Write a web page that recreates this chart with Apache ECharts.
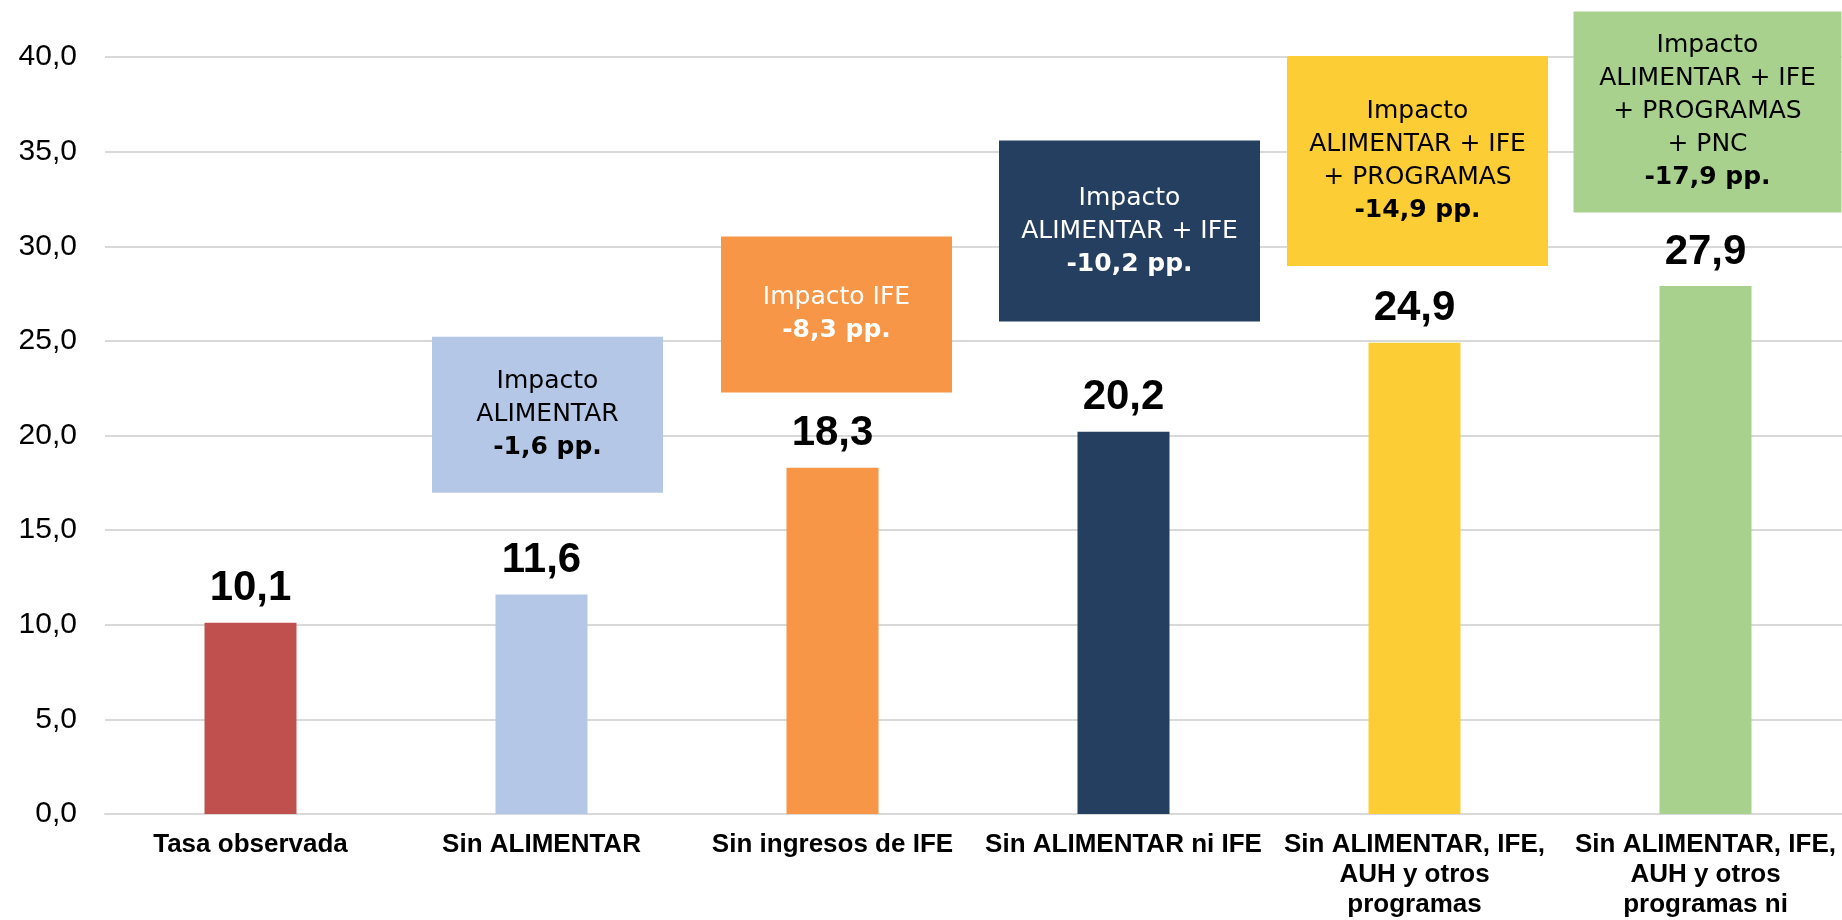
<!DOCTYPE html>
<html>
<head>
<meta charset="utf-8">
<script src="https://cdn.jsdelivr.net/npm/echarts@6/dist/echarts.min.js"></script>
<style>
  html, body { margin: 0; padding: 0; background: #fff; }
  #chart { width: 1842px; height: 920px; }
</style>
</head>
<body>
<div id="chart"></div>
<script>
// datos
let categorias = ['Tasa observada', 'Sin ALIMENTAR', 'Sin ingresos de IFE', 'Sin ALIMENTAR ni IFE',
  'Sin ALIMENTAR, IFE,\nAUH y otros\nprogramas', 'Sin ALIMENTAR, IFE,\nAUH y otros\nprogramas ni\nPNC']
let tasas = [10.1, 11.6, 18.3, 20.2, 24.9, 27.9]
let impactoTitulos = ['Impacto\nALIMENTAR', 'Impacto IFE', 'Impacto\nALIMENTAR + IFE',
  'Impacto\nALIMENTAR + IFE\n+ PROGRAMAS', 'Impacto\nALIMENTAR + IFE\n+ PROGRAMAS\n+ PNC']
let impactoPp = [-1.6, -8.3, -10.2, -14.9, -17.9]

// estilos
let colores = ['#C0504D', '#B4C7E7', '#F79646', '#243F60', '#FDCD36', '#A9D18E']
let textoCaja = ['#000', '#fff', '#fff', '#000', '#000']
// caja: categoria, centro en eje y, ancho, alto, desplazamiento x
let cajas = [
  { cat: 1, y: 21.1, w: 231, h: 156, dx: 6 },
  { cat: 2, y: 26.4, w: 231, h: 156, dx: 4 },
  { cat: 3, y: 30.8, w: 261, h: 181, dx: 6 },
  { cat: 4, y: 34.5, w: 261, h: 210, dx: 3 },
  { cat: 5, y: 37.1, w: 268, h: 201, dx: 2 }
]

let coma = v => v.toFixed(1).replace('.', ',')

let marcas = cajas.map((c, i) => ({
  coord: [c.cat, c.y],
  symbolSize: [c.w, c.h],
  symbolOffset: [c.dx, 0],
  itemStyle: { color: colores[i + 1] },
  label: {
    formatter: impactoTitulos[i].split('\n').map(t => '{n|' + t + '}').join('\n') +
      '\n{b|' + coma(impactoPp[i]) + ' pp.}',
    rich: {
      n: { fontFamily: 'DejaVu Sans', fontSize: 25, lineHeight: 33, color: textoCaja[i] },
      b: { fontFamily: 'DejaVu Sans', fontSize: 25, fontWeight: 'bold', lineHeight: 33, color: textoCaja[i] }
    }
  }
}))

let oChart = echarts.init(document.getElementById('chart'))
oChart.setOption({
  backgroundColor: '#fff',
  animation: false,
  grid: { left: 105, top: 57, bottom: 106, width: 1746, containLabel: false, outerBoundsMode: 'none' },
  xAxis: {
    type: 'category',
    data: categorias,
    axisTick: { show: false },
    axisLine: { lineStyle: { color: '#d9d9d9', width: 2 } },
    axisLabel: {
      interval: 0,
      margin: 16,
      color: '#000',
      fontFamily: 'Liberation Sans',
      fontWeight: 'bold',
      fontSize: 26,
      lineHeight: 30
    }
  },
  yAxis: {
    type: 'value',
    min: 0,
    max: 40,
    interval: 5,
    axisLine: { show: false },
    axisTick: { show: false },
    splitLine: { lineStyle: { color: '#d9d9d9', width: 2 } },
    axisLabel: {
      margin: 28,
      color: '#000',
      fontFamily: 'Liberation Sans',
      fontSize: 30,
      formatter: v => coma(v)
    }
  },
  series: [{
    type: 'bar',
    barWidth: 92,
    data: tasas.map((v, i) => ({ value: v, itemStyle: { color: colores[i] } })),
    label: {
      show: true,
      position: 'top',
      distance: 13,
      color: '#000',
      fontFamily: 'Liberation Sans',
      fontWeight: 'bold',
      fontSize: 42,
      lineHeight: 42,
      formatter: p => coma(p.value)
    },
    markPoint: {
      symbol: 'rect',
      silent: true,
      label: { show: true, position: 'inside' },
      data: marcas
    }
  }]
})
</script>
</body>
</html>
